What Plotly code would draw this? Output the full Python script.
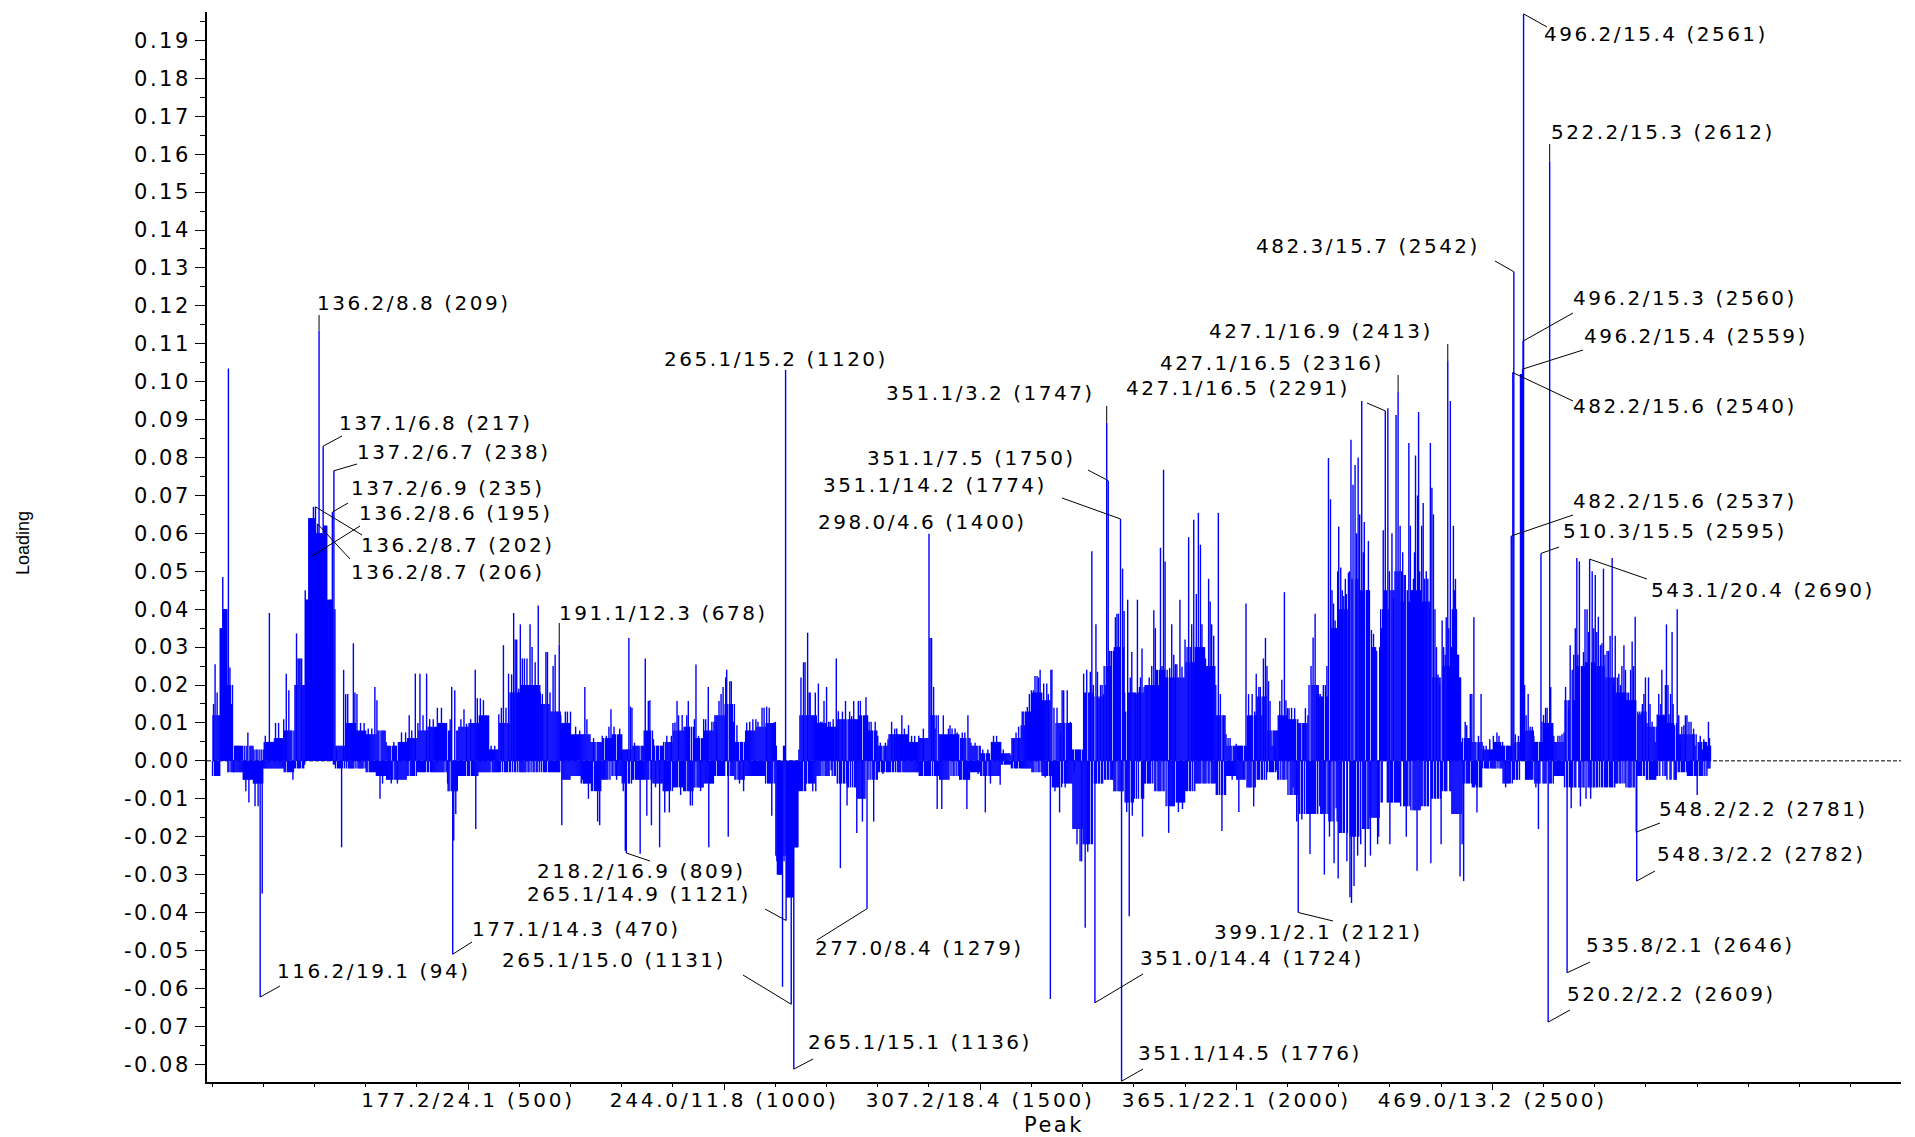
import plotly.graph_objects as go

# ---------------- data ----------------
N_PEAKS = 2926
BIN = 20

# dense "body" level of the loading forest, one value per 20-peak bin
body_hi = [
    0.012, 0.02, 0.004, 0.004, 0.003, 0.005, 0.006, 0.008, 0.02, 0.045,
    0.055, 0.04, 0.004, 0.01, 0.008, 0.007, 0.008, 0.004, 0.005, 0.006,
    0.008, 0.009, 0.01, 0.008, 0.009, 0.01, 0.012, 0.003, 0.01, 0.018,
    0.02, 0.02, 0.015, 0.013, 0.01, 0.007, 0.007, 0.005, 0.006, 0.007,
    0.003, 0.004, 0.008, 0.004, 0.005, 0.008, 0.009, 0.006, 0.008, 0.012,
    0.015, 0.005, 0.008, 0.009, 0.01, 0.004, 0.003, 0.012, 0.012, 0.01,
    0.009, 0.011, 0.011, 0.012, 0.008, 0.004, 0.007, 0.007, 0.005, 0.006,
    0.012, 0.007, 0.007, 0.006, 0.004, 0.002, 0.005, 0.002, 0.006, 0.013,
    0.018, 0.016, 0.01, 0.01, 0.003, 0.018, 0.017, 0.025, 0.03, 0.018,
    0.018, 0.02, 0.024, 0.022, 0.022, 0.026, 0.03, 0.025, 0.012, 0.004,
    0.004, 0.012, 0.017, 0.008, 0.012, 0.011, 0.01, 0.02, 0.017, 0.035,
    0.04, 0.048, 0.045, 0.03, 0.04, 0.045, 0.042, 0.045, 0.042, 0.022,
    0.025, 0.022, 0.006, 0.005, 0.003, 0.005, 0.004, 0.005, 0.008, 0.005,
    0.01, 0.005, 0.016, 0.025, 0.026, 0.025, 0.022, 0.018, 0.016, 0.013,
    0.009, 0.012, 0.01, 0.007, 0.007, 0.005, 0.008,
]
body_lo = [
    -0.004, -0.003, -0.003, -0.005, -0.006, -0.002, -0.002, -0.003, -0.002, -0.001,
    -0.002, -0.001, -0.002, -0.002, -0.002, -0.003, -0.004, -0.005, -0.005, -0.004,
    -0.003, -0.003, -0.003, -0.008, -0.004, -0.004, -0.003, -0.003, -0.003, -0.003,
    -0.003, -0.003, -0.003, -0.003, -0.005, -0.004, -0.006, -0.008, -0.005, -0.004,
    -0.006, -0.005, -0.005, -0.006, -0.008, -0.007, -0.008, -0.007, -0.006, -0.004,
    -0.004, -0.005, -0.004, -0.004, -0.006, -0.025, -0.034, -0.008, -0.006, -0.004,
    -0.004, -0.006, -0.007, -0.01, -0.005, -0.003, -0.003, -0.003, -0.003, -0.004,
    -0.004, -0.005, -0.004, -0.005, -0.003, -0.004, -0.004, -0.001, -0.002, -0.002,
    -0.003, -0.004, -0.007, -0.006, -0.018, -0.022, -0.006, -0.005, -0.008, -0.011,
    -0.01, -0.006, -0.008, -0.012, -0.011, -0.008, -0.006, -0.006, -0.009, -0.004,
    -0.005, -0.007, -0.005, -0.003, -0.005, -0.009, -0.014, -0.014, -0.014, -0.016,
    -0.019, -0.02, -0.018, -0.015, -0.011, -0.011, -0.012, -0.013, -0.012, -0.01,
    -0.008, -0.014, -0.006, -0.007, -0.002, -0.002, -0.006, -0.005, -0.005, -0.006,
    -0.006, -0.004, -0.007, -0.007, -0.007, -0.007, -0.007, -0.006, -0.007, -0.004,
    -0.005, -0.004, -0.005, -0.003, -0.004, -0.004, -0.002,
]

# solid runs of peaks (first peak, last peak, loading)
plateaus = [
    (16, 19, 0.035), (22, 29, 0.04), (183, 188, 0.0425), (189, 201, 0.064),
    (202, 208, 0.06), (210, 216, 0.06), (218, 224, 0.062), (225, 234, 0.0425),
    (1104, 1112, -0.03), (1122, 1135, -0.036), (1137, 1144, -0.0228),
]

# individual peaks (peak, loading)
spikes_a = [
    (3, 0.015), (6, 0.0255), (10, 0.018), (21, 0.0485), (32, 0.1035), (35, 0.0246),
    (38, 0.015), (42, -0.003), (62, -0.005), (66, -0.008), (70, 0.0075), (72, -0.011),
    (78, 0.004), (84, -0.012), (90, -0.012), (94, -0.0623), (98, -0.035), (104, 0.0066),
    (112, 0.039), (124, 0.01), (130, 0.01), (140, 0.011), (145, 0.023), (150, 0.0186),
    (155, -0.003), (158, -0.005), (165, 0.0336), (168, 0.027), (170, 0.027), (172, 0.027),
    (175, 0.027), (178, 0.02), (195, 0.054), (198, 0.067), (202, 0.067), (206, 0.0625),
    (209, 0.1134), (217, 0.083), (227, 0.03), (235, 0.0656), (238, 0.0765), (243, 0.003),
    (253, -0.0228), (257, 0.024), (261, 0.0176), (265, 0.0176), (270, 0.01), (276, 0.031),
    (279, 0.018), (283, 0.0176), (290, 0.01), (297, 0.01),
]
spikes_b = [
    (305, 0.0085), (312, 0.0085), (318, 0.0195), (322, 0.016), (328, -0.01), (333, -0.006),
    (340, 0.005), (350, -0.006), (355, 0.005), (362, -0.006), (370, 0.0075), (378, 0.0075),
    (385, 0.012), (390, 0.008), (397, 0.023), (402, 0.01), (406, 0.023), (412, 0.012),
    (419, 0.023), (425, 0.011), (432, 0.011), (440, 0.014), (448, 0.014), (455, 0.01),
    (460, -0.006), (465, 0.011), (468, 0.0195), (470, -0.051), (472, -0.021), (474, 0.0186),
    (476, -0.014), (486, 0.011), (492, 0.0136), (497, 0.0098), (505, 0.011), (514, 0.024),
    (515, -0.018), (518, 0.0165), (524, 0.0165), (530, 0.016), (536, 0.012), (545, 0.004),
    (552, 0.004), (560, 0.0123), (565, 0.014), (569, 0.0305), (574, 0.014), (579, 0.023),
    (585, 0.0228), (589, 0.039), (592, 0.032), (595, 0.032), (599, 0.019), (602, 0.036),
    (606, 0.027), (610, 0.027), (615, 0.027), (621, 0.036), (625, 0.03), (631, 0.026),
    (637, 0.041), (641, 0.018), (645, 0.0176), (652, 0.0287), (655, 0.0287), (660, 0.018),
    (666, 0.025), (670, 0.028), (678, 0.0307), (681, 0.012), (683, -0.017), (690, 0.013),
    (694, 0.013), (700, 0.013), (710, 0.009), (718, 0.008), (723, -0.005), (728, 0.0195),
    (732, 0.011), (735, -0.01), (740, 0.005), (745, 0.006), (750, -0.005), (753, -0.016),
    (757, -0.017),
]
spikes_c = [
    (762, 0.0066), (766, -0.004), (770, 0.0066), (775, 0.009), (779, 0.0136), (785, 0.009),
    (790, -0.005), (796, 0.0085), (803, -0.008), (807, -0.0237), (809, -0.0243), (811, 0.003),
    (814, 0.0324), (817, 0.0143), (820, 0.014), (825, 0.0048), (830, 0.004), (836, -0.0245),
    (842, 0.004), (846, 0.027), (849, -0.0145), (852, 0.0158), (855, 0.016), (858, -0.017),
    (862, 0.0057), (866, -0.007), (870, 0.004), (874, -0.0228), (878, 0.004), (884, -0.0136),
    (888, 0.0066), (893, -0.0136), (897, 0.0066), (900, 0.01), (904, 0.0101), (908, 0.0158),
    (911, 0.012), (915, -0.009), (918, 0.0121), (927, 0.012), (930, 0.0158), (934, -0.0118),
    (938, -0.0118), (942, 0.011), (945, 0.0254), (950, 0.0066), (954, -0.008), (960, 0.011),
    (964, 0.011), (969, 0.0195), (970, -0.0228), (976, 0.0103), (980, 0.0103), (985, 0.0103),
    (990, 0.0158), (994, 0.0176), (998, 0.0195), (1003, 0.022), (1005, 0.024), (1008, -0.02),
    (1011, 0.021), (1014, 0.021), (1018, 0.0103), (1025, 0.0094), (1030, -0.006),
    (1038, -0.008), (1044, 0.0101), (1050, 0.0103), (1056, 0.011), (1062, 0.011),
    (1066, 0.0103), (1074, 0.014), (1078, 0.014), (1083, 0.0143), (1088, 0.014),
    (1093, -0.0145), (1097, 0.0101), (1100, 0.0103), (1103, -0.0265), (1114, -0.0596),
    (1117, -0.0265), (1120, 0.1031), (1121, -0.0421), (1131, -0.0642), (1136, -0.0813),
    (1146, 0.003), (1150, 0.022), (1155, 0.026), (1158, 0.026),
]
spikes_d = [
    (1163, 0.0338), (1166, 0.018), (1168, 0.018), (1172, 0.012), (1173, -0.008), (1178, 0.018),
    (1179, -0.008), (1184, 0.0204), (1188, 0.0103), (1191, 0.0103), (1195, 0.0158),
    (1200, 0.0195), (1204, 0.0103), (1207, 0.0103), (1209, -0.0025), (1213, 0.011),
    (1219, 0.027), (1223, 0.0131), (1227, -0.0283), (1231, 0.013), (1233, -0.006),
    (1237, 0.0158), (1240, -0.0118), (1245, 0.013), (1249, 0.0118), (1253, 0.0158),
    (1259, -0.019), (1262, 0.0158), (1266, 0.0158), (1270, -0.016), (1272, 0.012),
    (1277, 0.0168), (1279, -0.039), (1283, 0.0103), (1287, 0.0103), (1292, -0.016),
    (1295, 0.0103), (1300, 0.0066), (1305, 0.0048), (1310, -0.0035), (1315, 0.0048),
    (1320, 0.0057), (1327, 0.0103), (1333, 0.0085), (1337, 0.0085), (1347, 0.012),
    (1352, 0.0085), (1360, 0.0094), (1366, 0.0066), (1372, 0.0066), (1380, 0.0066),
    (1389, 0.0085), (1400, 0.0599), (1402, 0.0324), (1405, 0.0324), (1409, 0.0195),
    (1412, 0.0085), (1416, -0.0127), (1420, 0.007), (1425, -0.0127), (1428, 0.012),
    (1438, 0.0085), (1441, 0.0094), (1445, 0.0085), (1451, 0.0085), (1455, 0.0075),
    (1460, -0.005), (1465, 0.0075), (1470, 0.0075), (1474, -0.0127), (1476, 0.012),
    (1482, 0.0048), (1490, 0.0048), (1496, -0.0035),
]
spikes_e = [
    (1505, 0.003), (1510, -0.0136), (1515, 0.003), (1520, -0.006), (1526, 0.0066),
    (1532, 0.0066), (1539, -0.0063), (1545, 0.003), (1552, 0.002), (1560, 0.0015),
    (1565, 0.0057), (1570, 0.0075), (1575, 0.009), (1580, 0.0094), (1586, 0.0094),
    (1592, 0.0142), (1596, 0.0176), (1600, 0.0186), (1604, 0.0186), (1607, 0.0224),
    (1611, 0.0224), (1614, 0.022), (1617, 0.024), (1620, 0.018), (1624, 0.0204),
    (1627, -0.0044), (1630, 0.0204), (1633, 0.0176), (1637, -0.0628), (1638, 0.024),
    (1640, 0.024), (1642, -0.006), (1644, 0.014), (1646, -0.008), (1650, 0.014),
    (1655, -0.0136), (1657, 0.0075), (1660, 0.0186), (1663, 0.0186), (1666, -0.007),
    (1670, 0.0186), (1676, 0.0103), (1680, 0.003), (1684, -0.003), (1689, -0.022),
    (1692, 0.003), (1695, -0.0265), (1698, -0.0265), (1702, 0.023), (1705, -0.044),
    (1708, 0.024), (1710, -0.024), (1713, -0.022), (1715, 0.0235), (1718, 0.0553),
    (1721, 0.02), (1724, -0.0638), (1726, 0.036), (1729, 0.0235), (1732, 0.0165),
    (1735, 0.02), (1738, 0.02), (1741, 0.0176), (1744, 0.02), (1747, 0.0892),
    (1750, 0.0739), (1753, 0.029), (1756, 0.029), (1758, -0.005), (1760, 0.029),
    (1764, 0.0379), (1767, 0.0388), (1770, 0.0388), (1774, 0.0638), (1776, -0.0845),
    (1778, 0.0507), (1781, 0.0395), (1784, 0.013), (1786, -0.0135), (1788, 0.0425),
    (1791, -0.041), (1793, 0.022), (1796, 0.0287), (1797, -0.0145), (1800, 0.018),
    (1803, 0.0176), (1806, 0.0176), (1807, 0.0425), (1811, 0.0195), (1813, 0.022),
    (1816, 0.0296), (1817, -0.02), (1820, 0.0195), (1825, 0.0195), (1830, 0.022),
    (1835, 0.025), (1839, 0.0397), (1842, 0.035), (1845, 0.0176), (1848, 0.02),
    (1852, 0.0562), (1855, 0.025), (1858, 0.0768), (1861, 0.0526), (1863, -0.012),
    (1865, 0.024), (1868, -0.019), (1870, 0.0245), (1874, 0.036), (1878, 0.028),
    (1881, 0.0255), (1884, 0.0255), (1887, -0.0135), (1890, 0.0425), (1894, 0.0248),
    (1895, -0.0127), (1900, 0.032), (1904, 0.03), (1907, 0.059), (1910, 0.03),
    (1913, 0.036), (1917, 0.0636), (1920, 0.03), (1922, 0.044), (1926, 0.0654),
    (1930, 0.057), (1933, 0.036), (1936, 0.03), (1940, 0.027), (1943, 0.025),
    (1946, 0.048), (1949, 0.042), (1952, 0.036), (1956, 0.033), (1960, 0.02),
    (1965, 0.0654), (1969, 0.0176), (1972, -0.0185), (1975, 0.012), (1980, 0.007),
    (1984, 0.006), (1988, 0.006), (1992, -0.005),
]
spikes_f = [
    (2000, 0.0045), (2005, -0.0135), (2010, 0.004), (2014, -0.0045), (2019, 0.0415),
    (2024, 0.0176), (2027, -0.007), (2031, 0.0176), (2034, -0.012), (2036, 0.013),
    (2039, 0.023), (2044, 0.0195), (2047, 0.0195), (2050, 0.012), (2053, 0.027),
    (2057, 0.0324), (2060, 0.025), (2063, 0.021), (2066, 0.0158), (2070, 0.004),
    (2075, 0.004), (2079, -0.0025), (2085, 0.0158), (2089, 0.0214), (2094, 0.0445),
    (2097, 0.016), (2100, 0.0139), (2103, 0.0139), (2108, 0.014), (2111, -0.007),
    (2114, 0.0139), (2118, -0.016), (2121, -0.04), (2125, 0.0085), (2128, -0.0155),
    (2131, 0.01), (2135, 0.0139), (2140, 0.012), (2144, -0.0246), (2146, 0.025),
    (2150, 0.0325), (2154, 0.0388), (2157, 0.0176), (2161, 0.0176), (2163, -0.012),
    (2164, 0.0176), (2167, -0.014), (2170, 0.02), (2172, -0.03), (2174, 0.02),
    (2177, 0.025), (2180, 0.0799), (2182, -0.02), (2184, 0.069), (2187, 0.045),
    (2190, 0.0415), (2191, -0.027), (2193, 0.037), (2195, -0.0125), (2198, 0.05),
    (2199, -0.031), (2200, 0.0618), (2202, 0.04), (2204, 0.051), (2207, 0.045),
    (2210, 0.0435), (2213, 0.048), (2215, 0.044), (2216, -0.0265), (2219, 0.0496),
    (2221, 0.05), (2222, -0.036), (2224, 0.0847), (2225, -0.0375), (2228, 0.0728),
    (2230, -0.033), (2232, 0.078), (2235, 0.06), (2237, -0.025), (2238, 0.08),
    (2241, 0.065), (2243, -0.022), (2245, 0.0949), (2248, 0.055), (2250, 0.063),
    (2252, -0.028), (2255, 0.045), (2258, 0.058), (2260, 0.045), (2262, -0.025),
    (2264, 0.0345), (2268, 0.0335), (2271, -0.015), (2274, 0.029), (2276, -0.022),
    (2278, -0.02), (2281, 0.014), (2284, 0.035), (2287, 0.0608), (2289, 0.045),
    (2291, 0.0923), (2293, 0.045), (2296, 0.093), (2299, 0.05), (2300, -0.022),
    (2302, 0.045), (2304, 0.06), (2307, 0.043), (2310, 0.05), (2312, 0.0912),
    (2314, 0.05), (2316, 0.0973), (2318, 0.05), (2320, 0.062), (2323, 0.05),
    (2325, 0.055), (2328, 0.049), (2330, 0.049), (2332, -0.02), (2334, 0.045),
    (2337, 0.0838), (2340, 0.062), (2343, 0.045), (2346, 0.048), (2348, 0.055),
    (2350, 0.0805), (2353, -0.029), (2354, 0.07), (2356, 0.092), (2358, 0.05),
    (2362, 0.062), (2365, 0.068), (2368, 0.048), (2371, 0.05), (2374, 0.048),
    (2377, 0.04), (2379, 0.0838), (2380, -0.027), (2382, 0.072), (2385, 0.065),
    (2388, 0.04), (2391, 0.03), (2394, 0.0228), (2397, 0.02), (2400, -0.022),
    (2402, 0.037), (2405, 0.03), (2408, 0.028), (2410, 0.0379), (2413, 0.1055),
    (2415, 0.035), (2418, 0.0949), (2420, 0.03), (2422, 0.04), (2424, 0.062),
    (2426, 0.045), (2428, 0.048), (2430, 0.04), (2432, 0.028), (2434, 0.028),
    (2437, -0.0305), (2440, 0.005), (2441, -0.022), (2444, -0.0317), (2447, 0.0103),
    (2450, 0.0094), (2453, -0.006), (2457, 0.0176), (2460, 0.0176),
]
spikes_g = [
    (2464, 0.0379), (2467, -0.0063), (2470, -0.0136), (2473, 0.0066), (2478, 0.0176),
    (2483, 0.004), (2488, 0.004), (2495, 0.0057), (2502, 0.0066), (2509, 0.0075),
    (2513, 0.0066), (2518, 0.004), (2522, 0.004), (2526, -0.007), (2530, 0.004),
    (2537, 0.0593), (2540, 0.1024), (2542, 0.129), (2545, 0.007), (2548, -0.005),
    (2551, 0.0066), (2555, 0.102), (2557, 0.102), (2559, 0.1033), (2560, 0.1107),
    (2561, 0.197), (2563, 0.02), (2566, 0.012), (2570, 0.0176), (2574, 0.009),
    (2578, 0.009), (2581, 0.0066), (2585, -0.007), (2590, -0.018), (2595, 0.0547),
    (2597, 0.0103), (2600, 0.0121), (2604, 0.014), (2607, 0.014), (2609, -0.0689),
    (2612, 0.158), (2614, 0.0195), (2617, 0.0094), (2620, 0.0066), (2625, -0.004),
    (2628, 0.0066), (2632, 0.0066), (2636, 0.007), (2640, 0.0075), (2643, 0.0195),
    (2646, -0.0559), (2649, 0.014), (2652, 0.0305), (2654, -0.0125), (2656, 0.024),
    (2659, 0.028), (2662, 0.035), (2665, 0.0535), (2667, 0.028), (2670, 0.0526),
    (2672, -0.012), (2675, 0.018), (2678, 0.0287), (2681, 0.04), (2683, -0.01),
    (2685, 0.04), (2688, 0.034), (2690, 0.0532), (2692, -0.01), (2695, 0.05),
    (2698, 0.035), (2701, 0.049), (2704, 0.034), (2707, 0.038), (2711, 0.0305),
    (2714, 0.031), (2717, 0.0507), (2720, 0.028), (2724, 0.029), (2727, 0.029),
    (2730, 0.033), (2734, 0.0535), (2737, 0.02), (2740, 0.033), (2744, 0.022),
    (2747, 0.023), (2750, 0.02), (2753, 0.025), (2757, 0.0305), (2760, 0.024),
    (2763, 0.018), (2766, 0.018), (2770, 0.024), (2773, 0.0315), (2776, 0.025),
    (2779, 0.038), (2781, -0.0188), (2782, -0.0317), (2786, 0.0123), (2790, 0.0123),
    (2793, 0.015), (2796, 0.0176), (2799, 0.022), (2802, 0.01), (2805, 0.022),
    (2808, 0.015), (2812, 0.0103), (2815, -0.005), (2818, 0.005), (2822, 0.0122),
    (2825, 0.0176), (2829, 0.015), (2831, 0.024), (2835, 0.0122), (2838, 0.02),
    (2840, 0.036), (2843, 0.02), (2845, 0.0123), (2848, 0.0176), (2851, 0.034),
    (2853, 0.015), (2856, 0.0094), (2858, -0.005), (2861, 0.04), (2864, 0.012),
    (2867, 0.005), (2870, 0.009), (2874, 0.0094), (2877, 0.012), (2880, 0.012),
    (2884, 0.0103), (2888, 0.0103), (2893, 0.0085), (2896, 0.004), (2900, -0.009),
    (2903, 0.004), (2906, 0.0066), (2910, 0.003), (2913, 0.0057), (2917, 0.004),
    (2920, 0.004), (2922, 0.0103), (2924, 0.006), (2926, 0.004),
]

# labelled peaks
label_texts = [
    "136.2/8.8 (209)", "137.1/6.8 (217)", "137.2/6.7 (238)", "137.2/6.9 (235)",
    "136.2/8.6 (195)", "136.2/8.7 (202)", "136.2/8.7 (206)", "116.2/19.1 (94)",
    "177.1/14.3 (470)", "191.1/12.3 (678)", "218.2/16.9 (809)", "265.1/14.9 (1121)",
    "265.1/15.0 (1131)", "265.1/15.1 (1136)", "265.1/15.2 (1120)", "277.0/8.4 (1279)",
    "298.0/4.6 (1400)", "351.1/3.2 (1747)", "351.1/7.5 (1750)", "351.1/14.2 (1774)",
    "351.0/14.4 (1724)", "351.1/14.5 (1776)", "399.1/2.1 (2121)", "427.1/16.9 (2413)",
    "427.1/16.5 (2316)", "427.1/16.5 (2291)", "482.3/15.7 (2542)", "496.2/15.4 (2561)",
    "522.2/15.3 (2612)", "496.2/15.3 (2560)", "496.2/15.4 (2559)", "482.2/15.6 (2540)",
    "482.2/15.6 (2537)", "510.3/15.5 (2595)", "543.1/20.4 (2690)", "548.2/2.2 (2781)",
    "548.3/2.2 (2782)", "535.8/2.1 (2646)", "520.2/2.2 (2609)",
]
label_peaks = [
    209, 217, 238, 235, 195, 202, 206, 94, 470, 678, 809, 1121, 1131, 1136, 1120, 1279,
    1400, 1747, 1750, 1774, 1724, 1776, 2121, 2413, 2316, 2291, 2542, 2561, 2612, 2560,
    2559, 2540, 2537, 2595, 2690, 2781, 2782, 2646, 2609,
]

x_tick_peaks = [500, 1000, 1500, 2000, 2500]
x_tick_labels = ["177.2/24.1 (500)", "244.0/11.8 (1000)", "307.2/18.4 (1500)",
                 "365.1/22.1 (2000)", "469.0/13.2 (2500)"]
y_tick_labels = ["-0.08", "-0.07", "-0.06", "-0.05", "-0.04", "-0.03", "-0.02", "-0.01",
                 "0.00", "0.01", "0.02", "0.03", "0.04", "0.05", "0.06", "0.07", "0.08",
                 "0.09", "0.10", "0.11", "0.12", "0.13", "0.14", "0.15", "0.16", "0.17",
                 "0.18", "0.19"]

# ---------------- build series ----------------
peaks = list(range(1, N_PEAKS + 1))
loading = {}
for p in peaks:
    b = (p - 1) // BIN
    loading[p] = body_hi[b] if p % 2 == 0 else body_lo[b]
for a, z, v in plateaus:
    for p in range(a, z + 1):
        loading[p] = v
for group in (spikes_a, spikes_b, spikes_c, spikes_d, spikes_e, spikes_f, spikes_g):
    for p, v in group:
        loading[p] = v

xs, ys = [], []
for p in peaks:
    xs += [p, p, None]
    ys += [0, loading[p], None]

# ---------------- layout geometry ----------------
W, H = 1915, 1137
ML, MR, MT, MB = 207, 14, 12, 55
X_RANGE = [-9.8, 3298]
Y_RANGE = [-0.0847, 0.1975]
pw, ph = W - ML - MR, H - MT - MB
def dx(px):
    return X_RANGE[0] + (px - ML) / pw * (X_RANGE[1] - X_RANGE[0])
def dy(py):
    return Y_RANGE[1] - (py - MT) / ph * (Y_RANGE[1] - Y_RANGE[0])

# label placement in screen pixels: (text left, text middle, leader end x, leader end y)
# leader end x None -> vertical tick above the bar ; both None -> no leader
label_place = [
    (315, 303, None, 315), (337, 423, 342, 436), (355, 452, 357, 464), (349, 488, 348, 503),
    (357, 513, 360, 526), (359, 545, 362, 535), (349, 572, 350, 559), (275, 971, 280, 986),
    (470, 929, 472, 942), (557, 613, None, 623), (535, 871, 650, 861), (525, 894, 765, 909),
    (500, 960, 743, 975), (806, 1042, 813, 1059), (662, 359, None, None), (813, 948, 817, 940),
    (816, 522, None, None), (884, 393, None, 406), (865, 458, 1088, 470), (821, 485, 1062, 498),
    (1138, 958, 1143, 974), (1136, 1053, 1143, 1069), (1212, 932, 1333, 921), (1207, 331, None, 344),
    (1158, 363, None, 375), (1124, 388, 1367, 403), (1254, 246, 1495, 261), (1542, 34, 1547, 27),
    (1549, 132, None, 144), (1571, 298, 1573, 313), (1582, 336, 1583, 350), (1571, 406, 1573, 401),
    (1571, 501, 1573, 515), (1561, 531, 1559, 547), (1649, 590, 1647, 579), (1657, 809, 1660, 823),
    (1655, 854, 1655, 871), (1584, 945, 1590, 962), (1565, 994, 1570, 1010),
]

FONT = "DejaVu Sans"

fig = go.Figure()
fig.add_trace(go.Scatter(
    x=xs, y=ys, mode="lines", line=dict(color="#0000FF", width=1.4),
    hoverinfo="skip", showlegend=False,
))

shapes = [dict(type="line", xref="paper", x0=0, x1=1, yref="y", y0=0, y1=0,
               line=dict(color="black", width=1, dash="4px,2px"), layer="below")]
annotations = [
    dict(text="Loading", xref="paper", yref="paper", x=(23 - ML) / pw, y=(H - MB - 543) / ph,
         xanchor="center", yanchor="middle", textangle=-90, showarrow=False,
         font=dict(family="Liberation Sans", size=18, color="black")),
    dict(text="Peak", xref="paper", yref="paper", x=0.5, y=-(1125 - (H - MB)) / ph,
         xanchor="center", yanchor="middle", showarrow=False,
         font=dict(family=FONT, size=21, color="black")),
]
for text, pk, (lx, cy, ex, ey) in zip(label_texts, label_peaks, label_place):
    annotations.append(dict(
        text=text, x=dx(lx), y=dy(cy), xref="x", yref="y", xanchor="left",
        yanchor="middle", align="left", showarrow=False,
        font=dict(family=FONT, size=20, color="black"),
    ))
    if ey is not None:
        x1 = pk if ex is None else dx(ex)
        shapes.append(dict(type="line", xref="x", yref="y", x0=pk, y0=loading[pk],
                           x1=x1, y1=dy(ey), line=dict(color="black", width=1)))

fig.update_layout(
    width=W, height=H, margin=dict(l=ML, r=MR, t=MT, b=MB, autoexpand=False),
    paper_bgcolor="white", plot_bgcolor="white", showlegend=False,
    shapes=shapes, annotations=annotations,
    xaxis=dict(
        range=X_RANGE, showgrid=False, zeroline=False, showline=True, linecolor="black",
        linewidth=2, ticks="outside", ticklen=6, tickwidth=1, tickcolor="black",
        tickmode="array", tickvals=x_tick_peaks, ticktext=x_tick_labels,
        ticklabelstandoff=-7,
        tickfont=dict(family=FONT, size=20, color="black"),
        minor=dict(ticks="outside", ticklen=3, tickwidth=1, tickcolor="black",
                   tickmode="linear", tick0=0, dtick=100, showgrid=False),
    ),
    yaxis=dict(
        range=Y_RANGE, showgrid=False, zeroline=False, showline=True, linecolor="black",
        linewidth=2, ticks="outside", ticklen=10, tickwidth=1, tickcolor="black",
        tickmode="array", tickvals=[float(t) for t in y_tick_labels], ticktext=y_tick_labels,
        tickfont=dict(family=FONT, size=21, color="black"),
        minor=dict(ticks="outside", ticklen=5, tickwidth=1, tickcolor="black",
                   tickmode="linear", tick0=0, dtick=0.005, showgrid=False),
    ),
)

css = ("body{margin:0;overflow:hidden}"
       ".annotation-text{letter-spacing:2.5px}"
       ".annotation[data-index=\\'0\\'] text{letter-spacing:0px}"
       ".xtick text{letter-spacing:2.8px}"
       ".ytick text{letter-spacing:2.5px}")
post = ("var s=document.createElement('style');s.textContent='" + css + "';"
        "document.head.appendChild(s);")

fig.write_html("out.html", post_script=post, config={"displayModeBar": False})
